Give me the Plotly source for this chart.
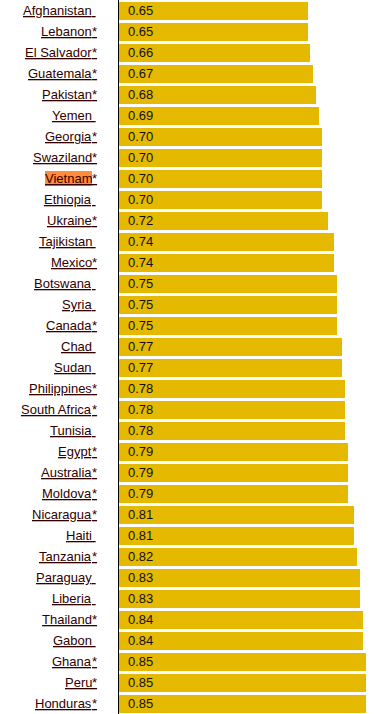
import plotly.graph_objects as go

countries = ["Afghanistan", "Lebanon", "El Salvador", "Guatemala", "Pakistan", "Yemen",
             "Georgia", "Swaziland", "Vietnam", "Ethiopia", "Ukraine", "Tajikistan",
             "Mexico", "Botswana", "Syria", "Canada", "Chad", "Sudan", "Philippines",
             "South Africa", "Tunisia", "Egypt", "Australia", "Moldova", "Nicaragua",
             "Haiti", "Tanzania", "Paraguay", "Liberia", "Thailand", "Gabon", "Ghana",
             "Peru", "Honduras"]
starred = [False, True, True, True, True, False, True, True, True, False, True, False,
           True, False, False, True, False, False, True, True, False, True, True, True,
           True, False, True, False, False, True, False, True, True, True]
values = [0.65, 0.65, 0.66, 0.67, 0.68, 0.69, 0.70, 0.70, 0.70, 0.70, 0.72, 0.74,
          0.74, 0.75, 0.75, 0.75, 0.77, 0.77, 0.78, 0.78, 0.78, 0.79, 0.79, 0.79,
          0.81, 0.81, 0.82, 0.83, 0.83, 0.84, 0.84, 0.85, 0.85, 0.85]
highlight = "Vietnam"

W, H = 375, 714
x0 = 119
px_per_unit = 290.0
split_x = 92.0

fig = go.Figure()
fig.add_trace(go.Bar(
    x=values, y=list(range(len(values))), orientation="h",
    marker=dict(color="#E4B900", line=dict(width=0)),
    width=18 / 21, hoverinfo="skip"))

ann = []
for i, (c, s, v) in enumerate(zip(countries, starred, values)):
    ann.append(dict(x=split_x / W, xref="paper", y=i, yref="y", xanchor="right",
                    yanchor="middle", text="<u>%s</u>" % c, showarrow=False,
                    font=dict(family="Liberation Sans, Arial", size=13, color="#330000"),
                    bgcolor="#FF8C3C" if c == highlight else None,
                    borderpad=0, borderwidth=0))
    ann.append(dict(x=split_x / W, xref="paper", y=i, yref="y", xanchor="left",
                    yanchor="middle", text="<u>%s</u>" % ("*" if s else "\u00a0"),
                    showarrow=False,
                    font=dict(family="Liberation Sans, Arial", size=13, color="#330000"),
                    borderpad=0, borderwidth=0))
    ann.append(dict(x=0, xref="x", y=i, yref="y", xanchor="left", yanchor="middle",
                    xshift=8, text="%.2f" % v, showarrow=False,
                    font=dict(family="Liberation Sans, Arial", size=13, color="#111111"),
                    borderpad=0))

fig.update_layout(
    width=W, height=H, margin=dict(l=0, r=0, t=0, b=0),
    paper_bgcolor="white", plot_bgcolor="white", showlegend=False,
    xaxis=dict(domain=[x0 / W, 1], range=[0, (W - x0) / px_per_unit],
               visible=False, fixedrange=True),
    yaxis=dict(range=[len(values) - 0.5, -0.5], visible=False, fixedrange=True),
    annotations=ann, bargap=0,
    shapes=[dict(type="line", xref="paper", yref="paper", x0=118.5 / W, x1=118.5 / W,
                 y0=0, y1=1, line=dict(color="black", width=1))],
)

fig.write_html("out.html", config={"displayModeBar": False},
               post_script="document.body.style.margin='0';document.body.style.overflow='hidden';")
